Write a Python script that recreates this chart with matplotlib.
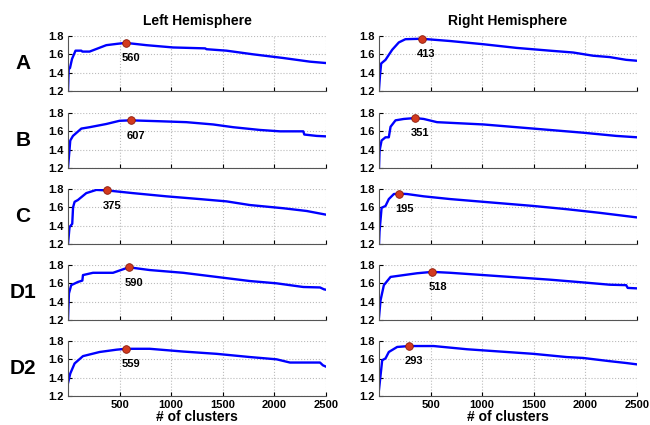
import matplotlib.pyplot as plt

plt.rcParams['font.family'] = ['Liberation Sans', 'DejaVu Sans']
plt.rcParams['font.weight'] = 'bold'

rows = ['A', 'B', 'C', 'D1', 'D2']
sides = ['Left Hemisphere', 'Right Hemisphere']
xticks = [500, 1000, 1500, 2000, 2500]
yticks = [1.2, 1.4, 1.6, 1.8]

# left hemisphere curves
a_left_x = [1, 8, 20, 40, 74, 130, 140, 210, 372, 480, 560, 760, 1019, 1330, 1342, 1536, 1795, 2086, 2345, 2500]
a_left_y = [1.2, 1.44, 1.45, 1.55, 1.64, 1.64, 1.63, 1.63, 1.70, 1.715, 1.725, 1.70, 1.675, 1.665, 1.656, 1.64, 1.60, 1.56, 1.52, 1.505]
b_left_x = [1, 23, 49, 130, 210, 372, 500, 607, 890, 1148, 1407, 1601, 1860, 2054, 2280, 2290, 2410, 2500]
b_left_y = [1.2, 1.50, 1.55, 1.63, 1.645, 1.68, 1.715, 1.72, 1.71, 1.70, 1.675, 1.645, 1.615, 1.60, 1.60, 1.565, 1.55, 1.545]
c_left_x = [1, 16, 42, 50, 65, 97, 178, 275, 375, 630, 954, 1278, 1537, 1763, 2087, 2313, 2500]
c_left_y = [1.2, 1.385, 1.42, 1.60, 1.66, 1.68, 1.755, 1.79, 1.785, 1.755, 1.72, 1.69, 1.665, 1.625, 1.59, 1.56, 1.52]
d1_left_x = [1, 10, 32, 97, 140, 146, 243, 437, 590, 792, 1116, 1440, 1763, 2022, 2151, 2280, 2442, 2480, 2500]
d1_left_y = [1.2, 1.49, 1.58, 1.615, 1.63, 1.69, 1.715, 1.715, 1.775, 1.745, 1.715, 1.67, 1.625, 1.60, 1.58, 1.56, 1.555, 1.535, 1.53]
d2_left_x = [1, 23, 65, 146, 307, 469, 559, 792, 1116, 1440, 1763, 2022, 2151, 2442, 2470, 2500]
d2_left_y = [1.34, 1.445, 1.555, 1.635, 1.68, 1.705, 1.715, 1.715, 1.685, 1.66, 1.625, 1.60, 1.565, 1.565, 1.535, 1.52]

# right hemisphere curves
a_right_x = [1, 10, 22, 64, 129, 193, 257, 413, 692, 1013, 1335, 1656, 1881, 2074, 2235, 2395, 2500]
a_right_y = [1.22, 1.36, 1.50, 1.54, 1.65, 1.73, 1.765, 1.77, 1.745, 1.71, 1.67, 1.64, 1.62, 1.585, 1.57, 1.54, 1.53]
b_right_x = [1, 6, 26, 64, 96, 113, 161, 241, 351, 434, 563, 1013, 1335, 1656, 1978, 2300, 2500]
b_right_y = [1.2, 1.385, 1.50, 1.535, 1.535, 1.65, 1.72, 1.735, 1.745, 1.735, 1.70, 1.675, 1.645, 1.615, 1.585, 1.55, 1.535]
c_right_x = [1, 6, 26, 64, 96, 145, 195, 273, 434, 692, 1013, 1496, 1817, 2139, 2500]
c_right_y = [1.2, 1.335, 1.595, 1.615, 1.69, 1.745, 1.75, 1.745, 1.72, 1.69, 1.66, 1.615, 1.58, 1.54, 1.49]
d1_right_x = [1, 16, 48, 113, 241, 370, 518, 692, 1013, 1335, 1656, 1978, 2235, 2395, 2410, 2500]
d1_right_y = [1.23, 1.415, 1.58, 1.67, 1.69, 1.71, 1.725, 1.715, 1.69, 1.665, 1.64, 1.61, 1.585, 1.58, 1.55, 1.545]
d2_right_x = [1, 32, 64, 96, 177, 293, 531, 853, 1174, 1496, 1817, 1978, 2235, 2395, 2500]
d2_right_y = [1.27, 1.59, 1.61, 1.68, 1.735, 1.745, 1.745, 1.71, 1.685, 1.66, 1.625, 1.615, 1.58, 1.56, 1.545]

# optimal cluster counts
peak_left_x = [560, 607, 375, 590, 559]
peak_left_y = [1.725, 1.72, 1.785, 1.775, 1.715]
peak_right_x = [413, 351, 195, 518, 293]
peak_right_y = [1.77, 1.745, 1.75, 1.725, 1.745]

curves = [
    [(a_left_x, a_left_y), (a_right_x, a_right_y)],
    [(b_left_x, b_left_y), (b_right_x, b_right_y)],
    [(c_left_x, c_left_y), (c_right_x, c_right_y)],
    [(d1_left_x, d1_left_y), (d1_right_x, d1_right_y)],
    [(d2_left_x, d2_left_y), (d2_right_x, d2_right_y)],
]
peaks = [(peak_left_x, peak_left_y), (peak_right_x, peak_right_y)]

fig = plt.figure(figsize=(6.5, 4.25), dpi=100)

tops = [36, 113, 189, 265, 341]
lefts = [68, 379]
for r, row in enumerate(rows):
    for c in range(2):
        ax = fig.add_axes([lefts[c] / 650, 1 - (tops[r] + 55) / 425, 258 / 650, 55 / 425])
        x, y = curves[r][c]
        ax.plot(x, y, color='#0000ff', lw=1.7)
        px, py = peaks[c][0][r], peaks[c][1][r]
        ax.plot(px, py, 'o', ms=5.5, mfc='#d23a1e', mec='#8a1a0a', mew=0.6, zorder=5, clip_on=False)
        ax.annotate(str(px), (px, py), xytext=(-3, -11), textcoords='offset points',
                    fontsize=8, fontweight='bold', ha='left', va='center')
        ax.set_xlim(1, 2500)
        ax.set_ylim(1.2, 1.8)
        ax.set_xticks(xticks)
        ax.set_yticks(yticks)
        ax.grid(True, ls=':', color='#bbbbbb', lw=0.8)
        ax.tick_params(direction='in', length=3, labelsize=8, pad=3)
        for s in ['top', 'right']:
            ax.spines[s].set_visible(False)
        for s in ['left', 'bottom']:
            ax.spines[s].set_color('#555555')
        if r < len(rows) - 1:
            ax.set_xticklabels([])
        else:
            ax.set_xlabel('# of clusters', fontsize=10, fontweight='bold', labelpad=0)
        if r == 0:
            ax.set_title(sides[c], fontsize=10, fontweight='bold', pad=8)
        if c == 0:
            ax.text(-0.175, 0.5, row, transform=ax.transAxes, fontsize=15,
                    fontweight='bold', ha='center', va='center')

fig.savefig('out.png', dpi=100)
